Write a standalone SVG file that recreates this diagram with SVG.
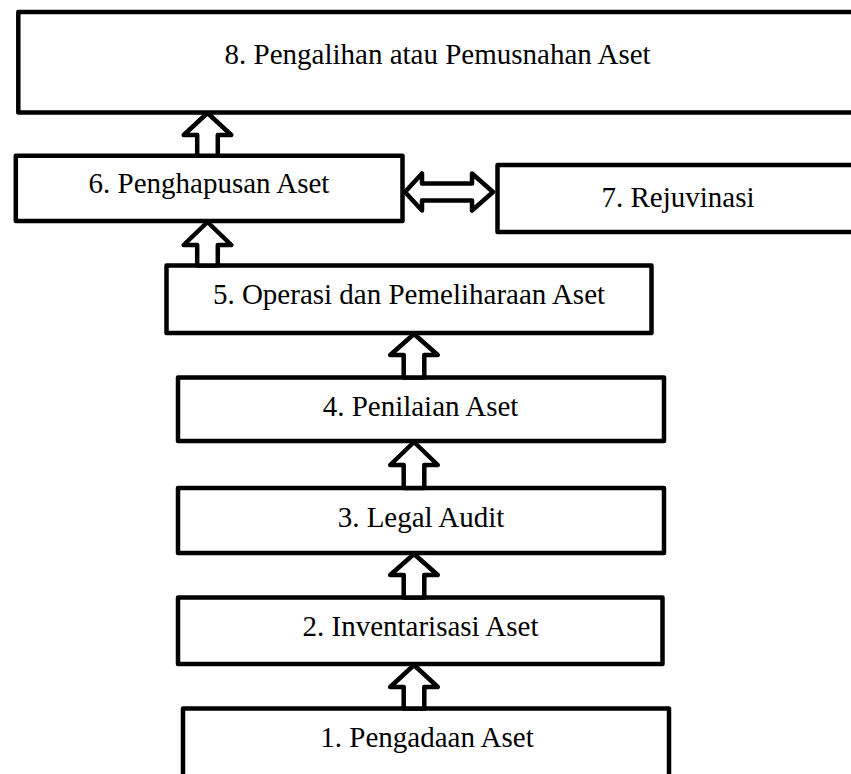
<svg xmlns="http://www.w3.org/2000/svg" width="851" height="774" viewBox="0 0 851 774">
  <style>
    .box { fill: #ffffff; stroke: #000000; stroke-width: 4.5; stroke-linejoin: round; }
    .lbl { font-family: "Liberation Serif", "Times New Roman", serif; font-size: 29px; fill: #000000; text-anchor: middle; }
    .arw { fill: #ffffff; stroke: #000000; stroke-width: 4.5; stroke-linejoin: round; }
  </style>
  <rect width="851" height="774" fill="#ffffff"/>

  <g id="nodes">
    <g id="n8">
      <rect class="box" x="18.3" y="12" width="839" height="100.5"/>
      <text class="lbl" x="437.6" y="64">8. Pengalihan atau Pemusnahan Aset</text>
    </g>
    <g id="n6">
      <rect class="box" x="15.8" y="155.8" width="386.7" height="65.2"/>
      <text class="lbl" x="209" y="193">6. Penghapusan Aset</text>
    </g>
    <g id="n7">
      <rect class="box" x="497.5" y="165" width="361" height="67"/>
      <text class="lbl" x="678" y="207">7. Rejuvinasi</text>
    </g>
    <g id="n5">
      <rect class="box" x="166.5" y="265.5" width="485" height="67.5"/>
      <text class="lbl" x="409" y="304">5. Operasi dan Pemeliharaan Aset</text>
    </g>
    <g id="n4">
      <rect class="box" x="178" y="377.5" width="486" height="63.5"/>
      <text class="lbl" x="420.5" y="416">4. Penilaian Aset</text>
    </g>
    <g id="n3">
      <rect class="box" x="178" y="488" width="486" height="65"/>
      <text class="lbl" x="421" y="527">3. Legal Audit</text>
    </g>
    <g id="n2">
      <rect class="box" x="178" y="597.5" width="484.5" height="66.5"/>
      <text class="lbl" x="420.5" y="636">2. Inventarisasi Aset</text>
    </g>
    <g id="n1">
      <rect class="box" x="183" y="708.5" width="486" height="72"/>
      <text class="lbl" x="427" y="747">1. Pengadaan Aset</text>
    </g>
  </g>

  <g id="connectors">
    <!-- block arrows pointing upward: tip, head base, shaft bottom -->
    <polygon class="arw" points="207.5,113 231.3,135 217.8,135 217.8,155.8 197.2,155.8 197.2,135 183.7,135"/>
    <polygon class="arw" points="207.5,222 231.3,245 217.8,245 217.8,265.5 197.2,265.5 197.2,245 183.7,245"/>
    <polygon class="arw" points="414,334 437.8,355 424.3,355 424.3,377.5 403.7,377.5 403.7,355 390.2,355"/>
    <polygon class="arw" points="414,442 437.8,465 424.3,465 424.3,488 403.7,488 403.7,465 390.2,465"/>
    <polygon class="arw" points="414,554 437.8,575 424.3,575 424.3,597.5 403.7,597.5 403.7,575 390.2,575"/>
    <polygon class="arw" points="414,665 437.8,687 424.3,687 424.3,708.5 403.7,708.5 403.7,687 390.2,687"/>
    <!-- two-headed arrow between 6 and 7 -->
    <polygon class="arw" points="405,192 422,173.5 422,183.5 472,183.5 472,173.5 493,192 472,210.5 472,200.5 422,200.5 422,210.5"/>
  </g>
</svg>
